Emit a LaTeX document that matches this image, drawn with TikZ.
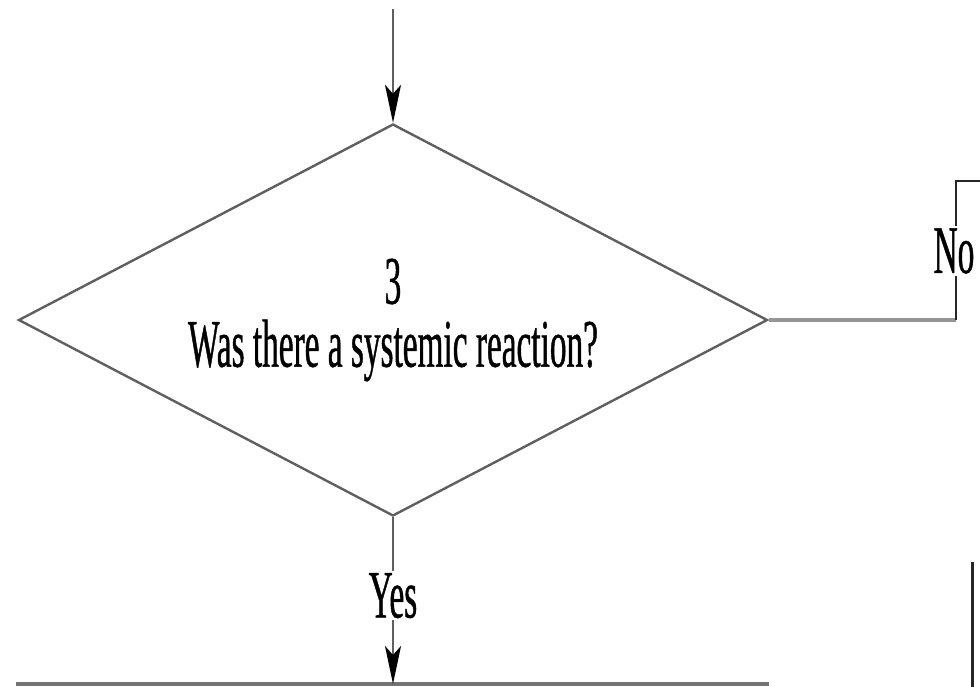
\documentclass[tikz,border=0pt]{standalone}
\usepackage{fontspec}
\newfontfamily\scanfont[FakeStretch=0.49, FakeBold=0.6]{Liberation Serif}
\usetikzlibrary{positioning, arrows.meta, shapes.geometric}
\definecolor{edgegray}{RGB}{95,95,95}
\definecolor{linkgray}{RGB}{150,150,150}

\begin{document}
\begin{tikzpicture}[
  x=1pt, y=-1pt,
  decision/.style={draw=edgegray, diamond, line width=2.4pt, minimum width=749pt, minimum height=392pt, aspect=1.9, inner sep=0pt, align=center, font=\scanfont\fontsize{68}{63}\selectfont},
  lbl/.style={fill=white, inner sep=2pt, font=\scanfont\fontsize{68}{63}\selectfont},
  flow/.style={draw=edgegray, line width=2.4pt},
  >={Stealth[length=38pt, width=16pt, inset=9pt, color=black]},
]
\useasboundingbox (0,0) rectangle (980,686);
\node[decision] (q3) at (393,320) {3\\Was there a systemic reaction?};

% way in
\coordinate[above=114pt of q3.north] (entry);
\draw[flow, ->] (entry) -- (q3.north);

% no branch
\coordinate (notop) at (956,181);
\coordinate (noexit) at (980,181);
\draw[linkgray, line width=3.5pt] (q3.east) -- (q3.east -| notop);
\draw[black!85, line width=2pt] (q3.east -| notop) -- (notop) -- (noexit);
\node[lbl] (no) at (954,251) {No};

% next boxes, cut by the page edge
\coordinate (boxL) at (16,684);
\coordinate (boxR) at (769,684);
\draw[black!55, line width=3.5pt] (boxL) -- (boxR);
\coordinate (sideT) at (972,562);
\coordinate (sideB) at (972,690);
\draw[black!85, line width=3pt] (sideT) -- (sideB);

% yes branch
\draw[flow, ->] (q3.south) -- node[lbl, pos=0.47] (yes) {Yes} (q3.south |- boxL);
\end{tikzpicture}
\end{document}
